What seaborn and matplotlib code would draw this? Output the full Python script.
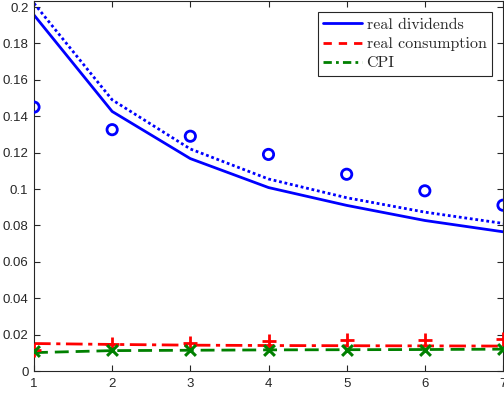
import numpy as np
import pandas as pd
import matplotlib
matplotlib.use("Agg")
import matplotlib.pyplot as plt
import seaborn as sns
from matplotlib.lines import Line2D

horizon = [1, 2, 3, 4, 5, 6, 7]
div_model = [0.1956, 0.1426, 0.1167, 0.1008, 0.0910, 0.0827, 0.0765]
div_model2 = [0.2020, 0.1490, 0.1220, 0.1055, 0.0952, 0.0873, 0.0811]
div_data = [0.1450, 0.1326, 0.1290, 0.1190, 0.1081, 0.0990, 0.0911]
cons_model = [0.0151, 0.0146, 0.0142, 0.0140, 0.0139, 0.0138, 0.0137]
cons_data = [0.0114, 0.0150, 0.0156, 0.0165, 0.0168, 0.0170, 0.0176]
cpi_model = [0.0101, 0.0112, 0.0114, 0.0116, 0.0117, 0.0118, 0.0120]
cpi_data = [0.0112, 0.0114, 0.0114, 0.0115, 0.0117, 0.0117, 0.0123]
legend_labels = ["real dividends", "real consumption", "CPI"]
yticks = [0, 0.02, 0.04, 0.06, 0.08, 0.1, 0.12, 0.14, 0.16, 0.18, 0.2]
yticklabels = ["0", "0.02", "0.04", "0.06", "0.08", "0.1", "0.12", "0.14", "0.16", "0.18", "0.2"]

sns.set_style("white")
plt.rcParams["font.family"] = ["Liberation Sans", "DejaVu Sans"]

fig = plt.figure(figsize=(5.04, 3.96), dpi=100)
ax = fig.add_axes([34 / 504, 25 / 396, 469 / 504, 370 / 396])

blue, red, green = "#0000ff", "#ff0000", "#008000"
lw = 2.0

sns.lineplot(x=horizon, y=div_model, ax=ax, color=blue, lw=lw)
sns.lineplot(x=horizon, y=div_model2, ax=ax, color=blue, lw=lw, linestyle=(0, (1, 1)))
sns.lineplot(x=horizon, y=cons_model, ax=ax, color=red, lw=lw, linestyle=(0, (6, 2, 1.5, 2)))
sns.lineplot(x=horizon, y=cpi_model, ax=ax, color=green, lw=lw, linestyle=(0, (5, 2.5)))

sns.scatterplot(x=horizon, y=div_data, ax=ax, marker="o", s=55, facecolor="none",
                edgecolor=blue, linewidth=2, zorder=5)
sns.scatterplot(x=horizon, y=cons_data, ax=ax, marker="+", s=110, color=red,
                linewidth=2, zorder=5)
sns.scatterplot(x=horizon, y=cpi_data, ax=ax, marker="x", s=60, color=green,
                linewidth=2.2, zorder=6)

ax.set_xlim(1, 7)
ax.set_ylim(0, 0.2033)
ax.set_xticks(horizon)
ax.set_xticklabels([str(h) for h in horizon])
ax.set_yticks(yticks)
ax.set_yticklabels(yticklabels)

axcol = "#262626"
for s in ax.spines.values():
    s.set_visible(True)
    s.set_color(axcol)
    s.set_linewidth(0.8)
ax.tick_params(direction="in", length=4.5, width=0.8, colors=axcol, labelsize=9.5,
               top=True, right=True, bottom=True, left=True, pad=4)
ax.tick_params(axis="x", pad=5)

handles = [
    Line2D([], [], color=blue, lw=2),
    Line2D([], [], color=red, lw=2, linestyle=(0, (3, 2.5))),
    Line2D([], [], color=green, lw=2, linestyle=(0, (3, 1.5, 1, 1.5))),
]
leg = ax.legend(handles, legend_labels, loc="upper right", bbox_to_anchor=(0.9765, 0.970),
                prop={"family": "cmr10", "size": 11.5}, frameon=True, fancybox=False,
                edgecolor=axcol, framealpha=1, borderpad=0.35, handlelength=2.4,
                handletextpad=0.3, labelspacing=0.32, borderaxespad=0)
leg.get_frame().set_linewidth(0.8)

fig.savefig("out.png", dpi=100)
